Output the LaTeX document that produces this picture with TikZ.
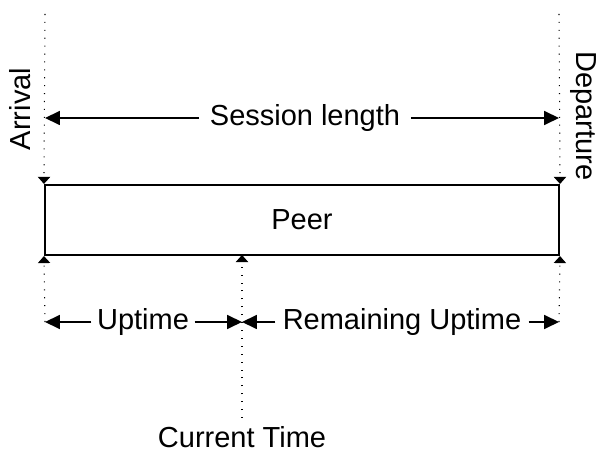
\documentclass[tikz,border=0pt]{standalone}
\usepackage{fontspec}
\setmainfont{Liberation Sans}
\usepackage{tikz}
\usetikzlibrary{arrows.meta}

\begin{document}
\begin{tikzpicture}[x=0.02cm, y=-0.02cm,
  every node/.style={font=\fontsize{16.5}{20}\selectfont, inner xsep=4pt,
                     inner ysep=1pt},
  dotline/.style={line width=0.6pt, dash pattern=on 0.6pt off 3.9pt},
  tick/.style={-{Triangle[length=4pt,width=7pt]}},
  span/.style={line width=0.8pt, -{Triangle[length=8.5pt,width=8pt]}},
]
\useasboundingbox (0,0) rectangle (599,452);
% the peer itself
\node (peer) [draw, line width=1.2pt, minimum width=514*0.02cm,
              minimum height=70*0.02cm] at (302,220) {Peer};
\coordinate (arrTop) at (45,14);
\coordinate (depTop) at (559,14);
\coordinate (arrBot) at (45,322);
\coordinate (depBot) at (559,322);
\coordinate (nowBot) at (242,418);
\coordinate (nowBox) at (242,255);
\coordinate (arrMid) at (45,118);
\coordinate (depMid) at (559,118);
\coordinate (nowMid) at (242,322);

\draw[dotline, tick] (arrTop) -- (peer.north west);
\draw[dotline, tick] (depTop) -- (peer.north east);
\draw[dotline, tick] (arrBot) -- (peer.south west);
\draw[dotline, tick] (depBot) -- (peer.south east);
\draw[dotline, tick] (nowBot) -- (nowBox);

\node (arrival) [rotate=90, inner sep=0pt] at (20,109) {Arrival};
\node (departure) [rotate=-90, inner sep=0pt] at (583,116) {Departure};
\node (now) [inner ysep=0pt] at (242,437) {Current Time};

% lengths
\node (session) [inner xsep=6pt] at (305,118) {Session length};
\draw[span] (session) -- (arrMid);
\draw[span] (session) -- (depMid);

\node (uptime) [inner xsep=3pt] at (143,322) {Uptime};
\draw[span] (uptime) -- (arrBot);
\draw[span] (uptime) -- (nowMid);

\node (remain) at (402,322) {Remaining Uptime};
\draw[span] (remain) -- (nowMid);
\draw[span] (remain) -- (depBot);
\end{tikzpicture}
\end{document}
